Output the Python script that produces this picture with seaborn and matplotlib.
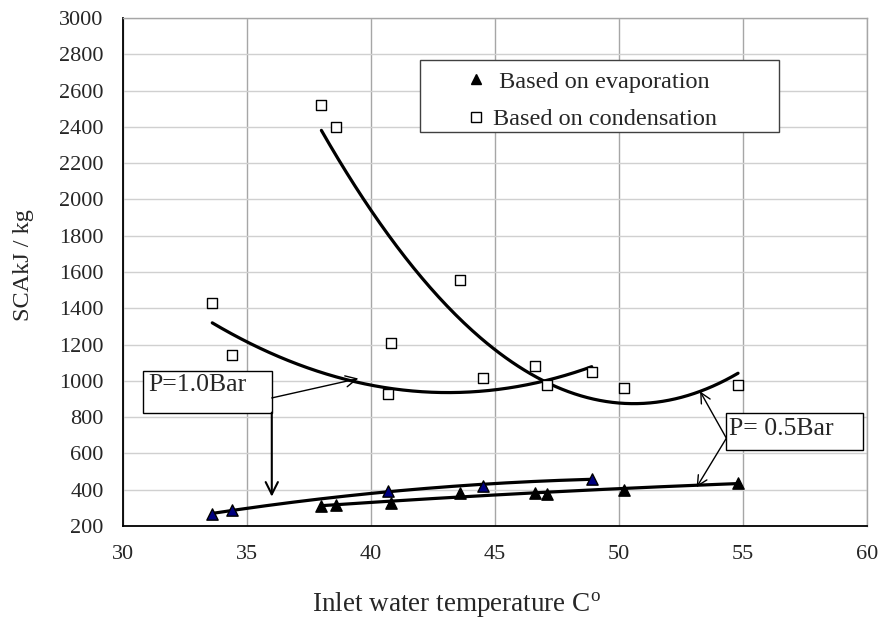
import numpy as np
import pandas as pd
import seaborn as sns
import matplotlib
matplotlib.use("Agg")
import matplotlib.pyplot as plt
from matplotlib.lines import Line2D
from matplotlib.patches import Rectangle

# P = 1.0 bar
t_p10 = [33.6, 34.4, 40.7, 44.5, 48.9]
evap_p10 = [265, 290, 394, 423, 460]
cond_p10 = [1430, 1140, 925, 1015, 1050]

# P = 0.5 bar
t_p05 = [38.0, 38.6, 40.8, 43.6, 46.6, 47.1, 50.2, 54.8]
evap_p05 = [313, 317, 325, 384, 382, 379, 400, 438]
cond_p05 = [2520, 2400, 1210, 1556, 1080, 975, 960, 980]

x_ticks = [30, 35, 40, 45, 50, 55, 60]
y_ticks = list(range(200, 3001, 200))

sns.set_style("whitegrid")
plt.rcParams['font.family'] = ['Liberation Serif', 'DejaVu Serif']
plt.rcParams['mathtext.fontset'] = 'custom'
plt.rcParams['mathtext.rm'] = 'Liberation Serif'


def trend(x, y, deg=2):
    # excel style polynomial trendline
    c = np.polyfit(x, y, deg)
    xs = np.linspace(min(x), max(x), 200)
    return pd.DataFrame({'t': xs, 'v': np.polyval(c, xs)})


fig = plt.figure(figsize=(8.81, 6.19), dpi=100)
ax = fig.add_axes([0.1396, 0.1502, 0.8445, 0.8207])

for x, y in [(t_p10, cond_p10), (t_p05, cond_p05), (t_p10, evap_p10), (t_p05, evap_p05)]:
    sns.lineplot(data=trend(x, y), x='t', y='v', color='black', lw=2.3, ax=ax, zorder=3)

sns.scatterplot(x=t_p10, y=cond_p10, marker='s', s=62, color='white', edgecolor='black', linewidth=1, ax=ax, zorder=4)
sns.scatterplot(x=t_p05, y=cond_p05, marker='s', s=62, color='white', edgecolor='black', linewidth=1, ax=ax, zorder=4)
sns.scatterplot(x=t_p10, y=evap_p10, marker='^', s=66, color='#000080', edgecolor='black', linewidth=1, ax=ax, zorder=4)
sns.scatterplot(x=t_p05, y=evap_p05, marker='^', s=66, color='black', edgecolor='black', linewidth=1, ax=ax, zorder=4)

ax.set_xlim(30, 60)
ax.set_ylim(200, 3000)
ax.set_xticks(x_ticks)
ax.set_yticks(y_ticks)
ax.tick_params(axis='both', direction='out', length=6, width=1, color='black', labelsize=16)
ax.tick_params(axis='x', pad=8)
ax.tick_params(axis='y', pad=8)
ax.grid(axis='x', color='#a6a6a6', lw=1)
ax.grid(axis='y', color='#d0d0d0', lw=1)
for s in ['left', 'bottom']:
    ax.spines[s].set_color('black')
    ax.spines[s].set_linewidth(1.3)
for s in ['top', 'right']:
    ax.spines[s].set_color('#a6a6a6')
    ax.spines[s].set_linewidth(1)

ax.set_xlabel('Inlet water temperature C$^{\\mathrm{o}}$', fontsize=19.5)
ax.set_ylabel('SCAkJ / kg', fontsize=17.5)
ax.xaxis.set_label_coords(0.448, -0.127)
ax.yaxis.set_label_coords(-0.12, 0.514)

# legend with its own frame
ax.add_patch(Rectangle((0.399, 0.776), 0.483, 0.141, transform=ax.transAxes,
                       facecolor='white', edgecolor='#404040', lw=1, zorder=5))
handles = [Line2D([], [], marker='^', color='black', ls='none', markersize=6.5),
           Line2D([], [], marker='s', markerfacecolor='white', markeredgecolor='black', ls='none', markersize=6.5)]
leg = ax.legend(handles, [' Based on evaporation', 'Based on condensation'], loc='upper left',
                bbox_to_anchor=(0.445, 0.915), frameon=False, fontsize=17.5, handlelength=1.0,
                handletextpad=0.2, labelspacing=0.62, borderpad=0.4, borderaxespad=0)
leg.set_zorder(6)

# pressure labels
ax.add_patch(Rectangle((30.82, 825), 5.18, 230, facecolor='white', edgecolor='black', lw=1, zorder=5))
ax.text(31.0, 975, 'P=1.0Bar', fontsize=18.5, va='center', ha='left', zorder=6)
ax.annotate('', xy=(39.49, 1013), xytext=(36.0, 906),
            arrowprops=dict(arrowstyle='->', lw=1, color='black', shrinkA=0, shrinkB=0, mutation_scale=20), zorder=6)
ax.annotate('', xy=(36.0, 362), xytext=(36.0, 825),
            arrowprops=dict(arrowstyle='->', lw=1.5, color='black', shrinkA=0, shrinkB=0, mutation_scale=22), zorder=6)

ax.add_patch(Rectangle((54.33, 620), 5.51, 202, facecolor='white', edgecolor='black', lw=1, zorder=5))
ax.text(54.42, 736, 'P= 0.5Bar', fontsize=18.5, va='center', ha='left', zorder=6)
ax.annotate('', xy=(53.27, 942), xytext=(54.33, 684),
            arrowprops=dict(arrowstyle='->', lw=1, color='black', shrinkA=0, shrinkB=0, mutation_scale=18), zorder=6)
ax.annotate('', xy=(53.13, 414), xytext=(54.33, 684),
            arrowprops=dict(arrowstyle='->', lw=1, color='black', shrinkA=0, shrinkB=0, mutation_scale=18), zorder=6)

fig.savefig('out.png', dpi=100)
